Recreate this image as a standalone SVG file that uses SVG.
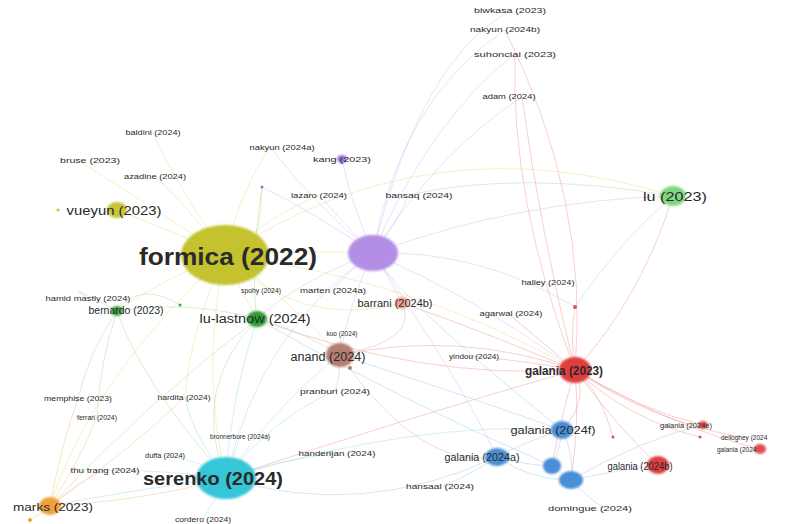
<svg xmlns="http://www.w3.org/2000/svg" width="790" height="524" viewBox="0 0 790 524">
<defs>
<filter id="soft" x="-30%" y="-30%" width="160%" height="160%"><feGaussianBlur stdDeviation="1.2"/></filter>
<style>
text{font-family:"Liberation Sans",Arial,sans-serif;fill:#2a2a2a;text-anchor:middle}
.s{font-size:6.5px}
.m{font-size:8px}
.l{font-size:10px}
.xl{font-size:12px}
.big{font-weight:bold}
.e path{fill:none;stroke-width:1}
.y path{stroke:#d8d860;stroke-opacity:.35}
.p path{stroke:#c9a8ec;stroke-opacity:.35}
.r path{stroke:#ec8080;stroke-opacity:.38}
.b path{stroke:#8ab8e8;stroke-opacity:.35}
.c path{stroke:#7fd6e0;stroke-opacity:.35}
.g path{stroke:#9ed89e;stroke-opacity:.4}
.o path{stroke:#f5c080;stroke-opacity:.45}
.br path{stroke:#d0b0a8;stroke-opacity:.4}
.n{filter:url(#soft)}
</style>
</defs>
<rect width="790" height="524" fill="#ffffff"/>
<g id="connectors" class="e">
<g class="y">
<path d="M225 255 Q170 230 117 210"/>
<path d="M225 255 Q180 190 152 132"/>
<path d="M225 255 Q140 200 78 160"/>
<path d="M225 255 Q190 210 155 176"/>
<path d="M225 255 Q240 190 270 147"/>
<path d="M225 255 Q270 215 320 195"/>
<path d="M225 255 Q300 250 373 253"/>
<path d="M225 255 Q240 290 257 319"/>
<path d="M225 255 Q160 280 117 311"/>
<path d="M225 255 Q190 330 185 397"/>
<path d="M225 255 Q290 300 340 355"/>
<path d="M225 255 Q200 370 226 478"/>
<path d="M225 255 Q420 280 575 370"/>
<path d="M225 255 Q430 120 673 196"/>
<path d="M225 255 Q90 380 50 506"/>
<path d="M225 255 Q300 330 402 303"/>
<path d="M225 255 Q260 270 262 187"/>
</g>
<g class="p">
<path d="M373 253 Q350 200 342 159"/>
<path d="M373 253 Q310 200 270 147"/>
<path d="M373 253 Q340 220 320 195"/>
<path d="M373 253 Q400 220 408 195"/>
<path d="M373 253 Q440 150 522 97"/>
<path d="M373 253 Q430 120 515 54"/>
<path d="M373 253 Q400 100 505 30"/>
<path d="M373 253 Q420 60 510 11"/>
<path d="M373 253 Q520 200 673 196"/>
<path d="M373 253 Q480 300 575 370"/>
<path d="M373 253 Q480 250 575 307"/>
<path d="M373 253 Q350 300 340 355"/>
<path d="M373 253 Q390 280 402 303"/>
<path d="M373 253 Q350 270 331 291"/>
<path d="M373 253 Q260 330 226 478"/>
<path d="M373 253 Q310 210 262 187"/>
<path d="M373 253 Q300 280 257 319"/>
<path d="M373 253 Q460 380 497 457"/>
</g>
<g class="r">
<path d="M575 370 Q570 340 575 307"/>
<path d="M575 370 Q540 340 511 316"/>
<path d="M575 370 Q540 230 522 97"/>
<path d="M575 370 Q510 200 515 54"/>
<path d="M575 370 Q590 200 505 30"/>
<path d="M575 370 Q640 410 703 425"/>
<path d="M575 370 Q680 430 760 449"/>
<path d="M575 370 Q650 420 740 437"/>
<path d="M575 370 Q620 430 658 465"/>
<path d="M575 370 Q590 400 562 430"/>
<path d="M575 370 Q520 360 470 356"/>
<path d="M575 370 Q480 330 402 303"/>
<path d="M575 370 Q460 330 340 355"/>
<path d="M575 370 Q600 390 613 437"/>
<path d="M575 370 Q640 300 673 196"/>
<path d="M575 370 Q420 380 257 319"/>
<path d="M575 370 Q400 420 226 478"/>
<path d="M575 370 Q580 420 571 480"/>
<path d="M575 370 Q560 420 552 466"/>
<path d="M575 370 Q630 420 700 437"/>
</g>
<g class="br">
<path d="M340 355 Q340 340 342 333"/>
<path d="M340 355 Q340 380 335 391"/>
<path d="M340 355 Q420 340 402 303"/>
<path d="M340 355 Q420 470 497 457"/>
<path d="M340 355 Q350 362 350 368"/>
</g>
<g class="b">
<path d="M497 457 Q530 440 562 430"/>
<path d="M497 457 Q525 465 552 466"/>
<path d="M497 457 Q530 480 571 480"/>
<path d="M497 457 Q470 475 443 486"/>
<path d="M571 480 Q590 500 605 508"/>
<path d="M497 457 Q360 520 226 478"/>
<path d="M562 430 Q560 450 552 466"/>
<path d="M562 430 Q575 455 571 480"/>
<path d="M571 480 Q620 470 658 465"/>
<path d="M562 430 Q450 390 340 355"/>
<path d="M562 430 Q400 300 373 253"/>
<path d="M552 466 Q400 400 257 319"/>
<path d="M571 480 Q640 440 703 425"/>
</g>
<g class="c">
<path d="M226 478 Q200 460 165 455"/>
<path d="M226 478 Q235 455 240 436"/>
<path d="M226 478 Q280 460 337 453"/>
<path d="M226 478 Q270 420 335 391"/>
<path d="M226 478 Q280 400 340 355"/>
<path d="M226 478 Q215 500 203 519"/>
<path d="M226 478 Q160 470 105 470"/>
<path d="M226 478 Q130 490 50 506"/>
<path d="M226 478 Q230 400 257 319"/>
<path d="M226 478 Q190 430 185 397"/>
<path d="M226 478 Q420 420 562 430"/>
</g>
<g class="g">
<path d="M117 311 Q190 300 257 319"/>
<path d="M117 311 Q140 380 226 478"/>
<path d="M117 311 Q100 360 97 417"/>
<path d="M117 311 Q90 350 78 398"/>
<path d="M117 311 Q140 280 180 305"/>
<path d="M257 319 Q190 390 226 478"/>
<path d="M257 319 Q300 330 340 355"/>
<path d="M257 319 Q250 270 262 187"/>
<path d="M673 196 Q620 240 575 307"/>
<path d="M673 196 Q520 170 408 195"/>
<path d="M117 311 Q60 280 88 298"/>
<path d="M257 319 Q150 400 50 506"/>
</g>
<g class="o">
<path d="M50 506 Q80 480 105 470"/>
<path d="M50 506 Q130 450 185 397"/>
<path d="M50 506 Q80 460 97 417"/>
<path d="M50 506 Q60 450 78 398"/>
<path d="M50 506 Q40 515 30 520"/>
<path d="M50 506 Q150 500 226 478"/>
</g>
</g>
<g id="nodes">
<g id="n-formica"><ellipse class="n" cx="225" cy="255" rx="44" ry="30" fill="#c4c22e"/><text class="big" x="228" y="265" font-size="24" textLength="178" lengthAdjust="spacingAndGlyphs">formica (2022)</text></g>
<g id="n-purple"><ellipse class="n" cx="373" cy="253" rx="25" ry="18" fill="#b48ee6"/></g>
<g id="n-serenko"><ellipse class="n" cx="226" cy="478" rx="30" ry="21" fill="#36c6d8"/><text class="big" x="213" y="485" font-size="18" textLength="140" lengthAdjust="spacingAndGlyphs">serenko (2024)</text></g>
<g id="n-galania2023"><ellipse class="n" cx="575" cy="370" rx="16" ry="13" fill="#e03c3c"/><text class="xl big" x="564" y="375" textLength="78" lengthAdjust="spacingAndGlyphs">galania (2023)</text></g>
<g id="n-anand"><ellipse class="n" cx="340" cy="355" rx="14" ry="12" fill="#b47e70"/><text class="xl" x="328" y="361" font-size="13" textLength="75" lengthAdjust="spacingAndGlyphs">anand (2024)</text></g>
<g id="n-lu"><ellipse class="n" cx="673" cy="196" rx="13" ry="10" fill="#7ed67e"/><text class="xl" x="675" y="201" textLength="64" lengthAdjust="spacingAndGlyphs">lu (2023)</text></g>
<g id="n-vueyun"><ellipse class="n" cx="117" cy="210" rx="10" ry="8" fill="#c8c43a"/><circle cx="58" cy="210" r="1.5" fill="#c8c43a"/><text class="xl" x="114" y="215" textLength="95" lengthAdjust="spacingAndGlyphs">vueyun (2023)</text></g>
<g id="n-lulastnow"><ellipse class="n" cx="257" cy="319" rx="10" ry="8" fill="#2e9e34"/><text class="xl" x="255" y="323" textLength="111" lengthAdjust="spacingAndGlyphs">lu-lastnow (2024)</text></g>
<g id="n-bernardo"><ellipse class="n" cx="117" cy="311" rx="6" ry="5" fill="#3aa83a"/><text class="l" x="126" y="314" textLength="75" lengthAdjust="spacingAndGlyphs">bernardo (2023)</text></g>
<g id="n-barrani"><ellipse class="n" cx="402" cy="303" rx="7" ry="6" fill="#eea08c"/><text class="l" x="395" y="307" textLength="75" lengthAdjust="spacingAndGlyphs">barrani (2024b)</text></g>
<g id="n-kang"><ellipse class="n" cx="342" cy="159" rx="5" ry="4" fill="#9a70dc"/><text class="m" x="342" y="162" textLength="58" lengthAdjust="spacingAndGlyphs">kang (2023)</text></g>
<g id="n-galania2024f"><ellipse class="n" cx="562" cy="430" rx="11" ry="9" fill="#4a8ed6"/><text class="l" x="553" y="434" font-size="11" textLength="85" lengthAdjust="spacingAndGlyphs">galania (2024f)</text></g>
<g id="n-galania2024a"><ellipse class="n" cx="497" cy="457" rx="12" ry="9" fill="#4a8ed6"/><text class="l" x="482" y="461" font-size="11" textLength="75" lengthAdjust="spacingAndGlyphs">galania (2024a)</text></g>
<g id="n-blue1"><ellipse class="n" cx="552" cy="466" rx="9" ry="8" fill="#4a8ed6"/></g>
<g id="n-blue2"><ellipse class="n" cx="571" cy="480" rx="12" ry="9" fill="#4a8ed6"/></g>
<g id="n-galania2024b"><ellipse class="n" cx="658" cy="465" rx="11" ry="9" fill="#e03c3c"/><text class="l" x="640" y="470" font-size="11" textLength="65" lengthAdjust="spacingAndGlyphs">galania (2024b)</text></g>
<g id="n-galania2024e"><ellipse class="n" cx="703" cy="425" rx="5" ry="4" fill="#e05050"/><text class="s" x="686" y="428" textLength="52" lengthAdjust="spacingAndGlyphs">galania (2024e)</text></g>
<g id="n-galania2024d"><ellipse class="n" cx="760" cy="449" rx="6" ry="5" fill="#e05050"/><text class="s" x="717" y="452" style="text-anchor:start" font-size="7">galania (2024</text></g>
<g id="n-delloghey"><circle cx="700" cy="437" r="1.5" fill="#e05050"/><text class="s" x="721" y="440" style="text-anchor:start">delloghey (2024</text></g>
<g id="n-marks"><ellipse class="n" cx="50" cy="506" rx="11" ry="9" fill="#f0a038"/><circle cx="30" cy="520" r="2" fill="#f0a038"/><text class="l" x="53" y="511" font-size="11" textLength="80" lengthAdjust="spacingAndGlyphs">marks (2023)</text></g>
<g id="n-small"><circle cx="262" cy="187" r="1.5" fill="#9a70dc"/><circle cx="180" cy="305" r="1.5" fill="#3aa83a"/><circle cx="350" cy="368" r="2" fill="#b47e70"/><circle cx="575" cy="307" r="2" fill="#e05050"/><circle cx="613" cy="437" r="1.5" fill="#e05050"/></g>
<g id="labels-small">
<text class="m" x="510" y="13" textLength="72" lengthAdjust="spacingAndGlyphs">biwkasa (2023)</text>
<text class="s" x="505" y="32" textLength="70" lengthAdjust="spacingAndGlyphs">nakyun (2024b)</text>
<text class="m" x="515" y="57" textLength="82" lengthAdjust="spacingAndGlyphs">suhonciai (2023)</text>
<text class="s" x="509" y="99" textLength="53" lengthAdjust="spacingAndGlyphs">adam (2024)</text>
<text class="s" x="153" y="135" textLength="55" lengthAdjust="spacingAndGlyphs">baldini (2024)</text>
<text class="m" x="90" y="163" font-size="7.5" textLength="60" lengthAdjust="spacingAndGlyphs">bruse (2023)</text>
<text class="s" x="155" y="179" textLength="62" lengthAdjust="spacingAndGlyphs">azadine (2024)</text>
<text class="s" x="282" y="150" textLength="65" lengthAdjust="spacingAndGlyphs">nakyun (2024a)</text>
<text class="s" x="319" y="198" textLength="56" lengthAdjust="spacingAndGlyphs">lazaro (2024)</text>
<text class="m" x="419" y="198" font-size="7.5" textLength="67" lengthAdjust="spacingAndGlyphs">bansaq (2024)</text>
<text class="s" x="88" y="301" textLength="85" lengthAdjust="spacingAndGlyphs">hamid mastly (2024)</text>
<text class="s" x="261" y="293" textLength="40" lengthAdjust="spacingAndGlyphs">spohy (2024)</text>
<text class="s" x="333" y="293" textLength="66" lengthAdjust="spacingAndGlyphs">marten (2024a)</text>
<text class="s" x="548" y="285" textLength="53" lengthAdjust="spacingAndGlyphs">halley (2024)</text>
<text class="s" x="511" y="316" textLength="63" lengthAdjust="spacingAndGlyphs">agarwal (2024)</text>
<text class="s" x="342" y="336" textLength="31" lengthAdjust="spacingAndGlyphs">kuo (2024)</text>
<text class="s" x="474" y="359" textLength="50" lengthAdjust="spacingAndGlyphs">yindou (2024)</text>
<text class="s" x="184" y="400" font-size="7" textLength="53" lengthAdjust="spacingAndGlyphs">hardita (2024)</text>
<text class="m" x="78" y="401" textLength="68" lengthAdjust="spacingAndGlyphs">memphise (2023)</text>
<text class="s" x="97" y="420" textLength="40" lengthAdjust="spacingAndGlyphs">ferrari (2024)</text>
<text class="s" x="335" y="394" font-size="7" textLength="70" lengthAdjust="spacingAndGlyphs">pranburi (2024)</text>
<text class="s" x="240" y="439" textLength="60" lengthAdjust="spacingAndGlyphs">bronnerbore (2024a)</text>
<text class="s" x="337" y="456" textLength="77" lengthAdjust="spacingAndGlyphs">handerijan (2024)</text>
<text class="s" x="165" y="458" font-size="7.5" textLength="40" lengthAdjust="spacingAndGlyphs">duffa (2024)</text>
<text class="s" x="105" y="473" textLength="69" lengthAdjust="spacingAndGlyphs">thu trang (2024)</text>
<text class="s" x="440" y="489" textLength="68" lengthAdjust="spacingAndGlyphs">hansaal (2024)</text>
<text class="m" x="590" y="511" textLength="84" lengthAdjust="spacingAndGlyphs">domingue (2024)</text>
<text class="s" x="203" y="522" textLength="56" lengthAdjust="spacingAndGlyphs">cordero (2024)</text>
</g>
</g>
</svg>
